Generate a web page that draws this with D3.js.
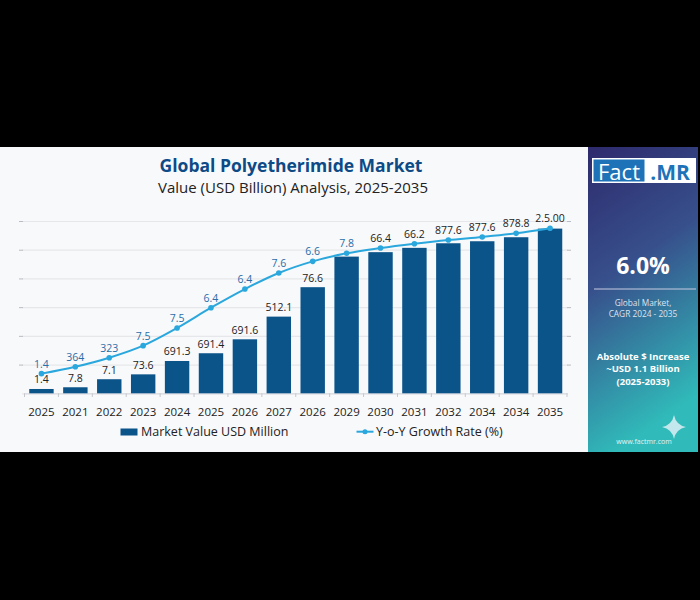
<!DOCTYPE html>
<html>
<head>
<meta charset="utf-8">
<script src="https://cdn.jsdelivr.net/npm/d3@7"></script>
<style>
  body { margin: 0; background: #000; }
  svg { display: block; }
  text { font-family: "Open Sans", "DejaVu Sans", sans-serif; }
</style>
</head>
<body>
<svg width="700" height="600"></svg>
<script>
// chart values
var years = ["2025","2021","2022","2023","2024","2025","2026","2027","2026","2029","2030","2031","2032","2034","2034","2035"];
var marketValue = [30, 42, 98, 132, 225, 279, 376, 534, 739, 952, 983, 1013, 1045, 1059, 1087, 1147];
var growthRate = [1.37, 1.85, 2.48, 3.32, 4.55, 5.96, 7.26, 8.38, 9.19, 9.75, 10.12, 10.42, 10.68, 10.89, 11.14, 11.49];
var barLabels = ["1.4","7.8","7.1","73.6","691.3","691.4","691.6","512.1","76.6","","","","","","",""];
var rateLabels = ["1.4","364","323","7.5","7.5","6.4","6.4","7.6","6.6","7.8","66.4","66.2","877.6","877.6","878.8","2.5.00"];
var valueTicks = [0, 200, 400, 600, 800, 1000, 1200];

var barColor = "#0b548a";
var lineColor = "#2aa7dd";

var svg = d3.select("svg");

// background panels
var grad = svg.append("defs").append("linearGradient")
    .attr("id", "side").attr("x1", 0).attr("y1", 0).attr("x2", 0.25).attr("y2", 1);
grad.append("stop").attr("offset", "0%").attr("stop-color", "#2e2a6d");
grad.append("stop").attr("offset", "45%").attr("stop-color", "#37508c");
grad.append("stop").attr("offset", "100%").attr("stop-color", "#30bab9");

svg.append("rect")
    .attr("x", 0).attr("y", 147).attr("width", 588).attr("height", 305)
    .attr("fill", "#f8f9fb");
svg.append("rect")
    .attr("x", 588).attr("y", 147).attr("width", 110).attr("height", 305)
    .attr("fill", "url(#side)");

// titles
svg.append("text")
    .attr("x", 291).attr("y", 171.5)
    .attr("text-anchor", "middle")
    .style("font-size", "17.5px").style("font-weight", "700")
    .attr("fill", "#0d4a86")
    .text("Global Polyetherimide Market");
svg.append("text")
    .attr("x", 293).attr("y", 193)
    .attr("text-anchor", "middle")
    .style("font-size", "15px")
    .attr("fill", "#222")
    .text("Value (USD Billion) Analysis, 2025-2035");

// scales
var x = d3.scaleBand()
    .domain(d3.range(years.length))
    .range([24.5, 567])
    .paddingInner(0.28)
    .paddingOuter(0.14);

var y = d3.scaleLinear().domain([0, 1200]).range([393.3, 221]);
var yRate = d3.scaleLinear().domain([0, 12]).range([393.3, 221]);

// gridlines
var grid = svg.append("g")
    .attr("transform", "translate(22,0)")
    .call(d3.axisLeft(y).tickValues(valueTicks).tickSize(-546).tickFormat(""));
grid.select(".domain").remove();
grid.selectAll(".tick line").attr("stroke", "#e6e7ea").attr("stroke-width", 1.2);
grid.selectAll(".tick").filter(function(d) { return d > 0; })
    .append("line")
    .attr("x1", -3).attr("x2", 1)
    .attr("stroke", "#b9bcc2");
grid.selectAll(".tick").filter(function(d) { return d > 0; })
    .append("line")
    .attr("x1", 545).attr("x2", 549)
    .attr("stroke", "#b9bcc2");

// x axis
var xAxis = svg.append("g")
    .attr("transform", "translate(0,393.3)")
    .call(d3.axisBottom(x).tickSize(0).tickPadding(15).tickFormat(function(i) { return years[i]; }));
xAxis.select(".domain").attr("stroke", "#d9dbdf");
xAxis.selectAll("text")
    .style("font-size", "11.5px")
    .style("font-family", "'Open Sans', sans-serif")
    .attr("fill", "#222");

svg.append("g").selectAll("line")
    .data(d3.range(years.length + 1))
    .enter()
    .append("line")
    .attr("x1", function(i) { return x.range()[0] + i * x.step(); })
    .attr("x2", function(i) { return x.range()[0] + i * x.step(); })
    .attr("y1", 393.3).attr("y2", 397)
    .attr("stroke", "#c4c7cc");

// bars
svg.append("g").selectAll("rect")
    .data(marketValue)
    .enter()
    .append("rect")
    .attr("x", function(d, i) { return x(i); })
    .attr("y", function(d) { return y(d); })
    .attr("width", x.bandwidth())
    .attr("height", function(d) { return y(0) - y(d); })
    .attr("fill", barColor);

svg.append("g").selectAll("text")
    .data(marketValue)
    .enter()
    .append("text")
    .attr("x", function(d, i) { return x(i) + x.bandwidth() / 2; })
    .attr("y", function(d) { return y(d) - 5.5; })
    .attr("text-anchor", "middle")
    .style("font-size", "10.5px")
    .attr("fill", "#222")
    .text(function(d, i) { return barLabels[i]; });

// growth line
var line = d3.line()
    .x(function(d, i) { return x(i) + x.bandwidth() / 2; })
    .y(function(d) { return yRate(d); })
    .curve(d3.curveMonotoneX);

svg.append("path")
    .datum(growthRate)
    .attr("d", line)
    .attr("fill", "none")
    .attr("stroke", lineColor)
    .attr("stroke-width", 2);

svg.append("g").selectAll("circle")
    .data(growthRate)
    .enter()
    .append("circle")
    .attr("cx", function(d, i) { return x(i) + x.bandwidth() / 2; })
    .attr("cy", function(d) { return yRate(d); })
    .attr("r", 2.8)
    .attr("fill", lineColor);

svg.append("g").selectAll("text")
    .data(growthRate)
    .enter()
    .append("text")
    .attr("x", function(d, i) { return x(i) + x.bandwidth() / 2; })
    .attr("y", function(d) { return yRate(d) - 6; })
    .attr("text-anchor", "middle")
    .style("font-size", "10.5px")
    .attr("fill", function(d, i) { return i < 10 ? "#2a6da8" : "#222"; })
    .text(function(d, i) { return rateLabels[i]; });

// legend
svg.append("rect")
    .attr("x", 120.5).attr("y", 428.5).attr("width", 17).attr("height", 7)
    .attr("fill", barColor);
svg.append("text")
    .attr("x", 141).attr("y", 436)
    .style("font-size", "12.5px").attr("fill", "#222")
    .text("Market Value USD Million");
svg.append("line")
    .attr("x1", 356.5).attr("x2", 373.5).attr("y1", 431.7).attr("y2", 431.7)
    .attr("stroke", lineColor).attr("stroke-width", 2);
svg.append("circle")
    .attr("cx", 365).attr("cy", 431.7).attr("r", 2.5).attr("fill", lineColor);
svg.append("text")
    .attr("x", 376).attr("y", 436)
    .style("font-size", "12.5px").attr("fill", "#222")
    .text("Y-o-Y Growth Rate (%)");

// side panel
var side = svg.append("g");
side.append("rect")
    .attr("x", 592).attr("y", 158).attr("width", 104).attr("height", 25)
    .attr("fill", "#fff");
side.append("rect")
    .attr("x", 593.5).attr("y", 159.5).attr("width", 51).attr("height", 22)
    .attr("fill", "#1e73b8");
side.append("text")
    .attr("x", 619).attr("y", 179.5)
    .attr("text-anchor", "middle")
    .style("font-size", "22px").attr("fill", "#fff")
    .text("Fact");
side.append("text")
    .attr("x", 670).attr("y", 179.5)
    .attr("text-anchor", "middle")
    .style("font-size", "21px").style("font-weight", "700").attr("fill", "#1e73b8")
    .text(".MR");

side.append("text")
    .attr("x", 643).attr("y", 274)
    .attr("text-anchor", "middle")
    .style("font-size", "23px").style("font-weight", "700").attr("fill", "#fff")
    .text("6.0%");
side.append("line")
    .attr("x1", 594).attr("x2", 696).attr("y1", 289).attr("y2", 289)
    .attr("stroke", "#c8cbe0").attr("stroke-width", 1);
side.append("text")
    .attr("x", 643).attr("y", 305.8)
    .attr("text-anchor", "middle")
    .style("font-size", "8.3px").attr("fill", "#dfe3ef")
    .text("Global Market,");
side.append("text")
    .attr("x", 643).attr("y", 317.3)
    .attr("text-anchor", "middle")
    .style("font-size", "8.3px").attr("fill", "#dfe3ef")
    .text("CAGR 2024 - 2035");

var absLines = ["Absolute $ Increase", "~USD 1.1 Billion", "(2025-2033)"];
side.selectAll(".abs")
    .data(absLines)
    .enter()
    .append("text")
    .attr("class", "abs")
    .attr("x", 643)
    .attr("y", function(d, i) { return 359.5 + i * 12.5; })
    .attr("text-anchor", "middle")
    .style("font-size", "9.5px").style("font-weight", "700").attr("fill", "#fff")
    .text(function(d) { return d; });

// sparkle
var cx = 674, cy = 427, r = 12, k = 2;
side.append("path")
    .attr("d", "M" + cx + "," + (cy - r) +
        " Q" + (cx + k) + "," + (cy - k) + " " + (cx + r) + "," + cy +
        " Q" + (cx + k) + "," + (cy + k) + " " + cx + "," + (cy + r) +
        " Q" + (cx - k) + "," + (cy + k) + " " + (cx - r) + "," + cy +
        " Q" + (cx - k) + "," + (cy - k) + " " + cx + "," + (cy - r) + "Z")
    .attr("fill", "#dcefF4").attr("opacity", 0.85);

side.append("text")
    .attr("x", 644).attr("y", 443.5)
    .attr("text-anchor", "middle")
    .style("font-size", "7px").attr("fill", "#e4f3f5")
    .text("www.factmr.com");
</script>
</body>
</html>
